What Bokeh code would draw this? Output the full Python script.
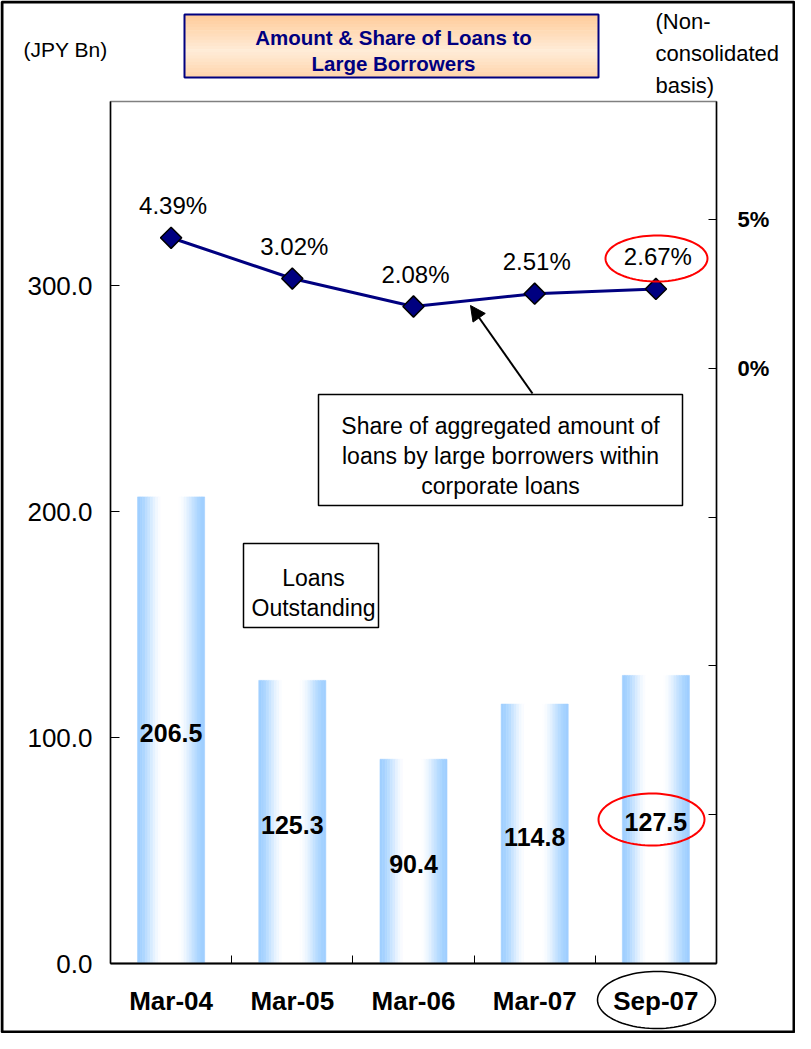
import numpy as np
from bokeh.plotting import figure
from bokeh.models import (Range1d, LinearAxis, FixedTicker, BoxAnnotation, Label,
                          Arrow, NormalHead, PolyAnnotation, NumeralTickFormatter)
from bokeh.core.properties import value
from bokeh.embed import file_html
from bokeh.resources import INLINE

# ---------------- data ----------------
categories = ["Mar-04", "Mar-05", "Mar-06", "Mar-07", "Sep-07"]
loans = [206.5, 125.3, 90.4, 114.8, 127.5]          # JPY Bn
share = [4.39, 3.02, 2.08, 2.51, 2.67]              # %
left_ticks = [0, 100, 200, 300]
right_ticks = [-20, -15, -10, -5, 0, 5]
right_tick_labels = {5: "5%", 0: "0%"}
title_lines = ["Amount & Share of Loans to", "Large Borrowers"]
unit_text = "(JPY Bn)"
basis_lines = ["(Non-", "consolidated", "basis)"]
share_note = ["Share of aggregated amount of", "loans by large borrowers within", "corporate loans"]
loans_note = ["Loans", "Outstanding"]

FONT = "Liberation Sans"
NAVY = "#000080"

# ---------------- layout (canvas pixels) ----------------
W, H = 795, 1033
PX_L, PX_R, PX_T, PX_B = 110, 716, 101, 963     # plot area
YMAX = 381.5                                    # left axis top value
PCT_MIN, PCT_MAX = -20.0, 8.97                  # right axis span
NC = len(categories)

sx = (PX_R - PX_L) / NC
sy = (PX_B - PX_T) / YMAX
sp = (PX_B - PX_T) / (PCT_MAX - PCT_MIN)
x_range = Range1d(-PX_L / sx, NC + (W - PX_R) / sx)
y_range = Range1d(-(H - PX_B) / sy, YMAX + PX_T / sy)
pct_range = Range1d(PCT_MIN - (H - PX_B) / sp, PCT_MAX + PX_T / sp)

p = figure(width=W, height=H, output_backend="svg", toolbar_location=None,
           x_range=x_range, y_range=y_range, x_axis_type=None, y_axis_type=None,
           min_border=0, min_border_left=0, min_border_right=0,
           min_border_top=0, min_border_bottom=0)
p.extra_y_ranges = {"pct": pct_range}
p.outline_line_color = None
p.background_fill_color = "white"
p.border_fill_color = "white"

xpos = [i + 0.5 for i in range(NC)]

# plot-area outline (grey), axes drawn on top of it
p.add_layout(BoxAnnotation(left=0, right=NC, bottom=0, top=YMAX, fill_alpha=0.0,
                           line_color="#808080", line_width=1.5, line_alpha=1.0, level="underlay"))

# ---------------- axes (fixed inside the frame) ----------------
xaxis = LinearAxis(fixed_location=0, bounds=(0, NC),
                   ticker=FixedTicker(ticks=xpos, minor_ticks=list(range(1, NC))),
                   major_label_overrides={x: c for x, c in zip(xpos, categories)})
xaxis.major_tick_line_color = None
xaxis.minor_tick_in = 8
xaxis.minor_tick_out = 0
xaxis.minor_tick_line_color = "black"
xaxis.minor_tick_line_width = 1
xaxis.axis_line_width = 2
xaxis.axis_line_color = "black"
xaxis.major_label_standoff = 16
xaxis.major_label_text_font = FONT
xaxis.major_label_text_font_style = "bold"
xaxis.major_label_text_font_size = "26px"
xaxis.major_label_text_color = "black"
p.add_layout(xaxis, "below")

yaxis = LinearAxis(fixed_location=0, bounds=(0, YMAX), ticker=FixedTicker(ticks=left_ticks),
                   formatter=NumeralTickFormatter(format="0.0"))
yaxis.major_tick_in = 9
yaxis.major_tick_out = 0
yaxis.minor_tick_line_color = None
yaxis.axis_line_width = 1.5
yaxis.axis_line_color = "black"
yaxis.major_tick_line_color = "black"
yaxis.major_label_standoff = 18
yaxis.major_label_text_font = FONT
yaxis.major_label_text_font_size = "26px"
yaxis.major_label_text_color = "black"
p.add_layout(yaxis, "left")

overrides = {t: right_tick_labels.get(t, "") for t in right_ticks}
raxis = LinearAxis(y_range_name="pct", fixed_location=NC, bounds=(PCT_MIN, PCT_MAX),
                   ticker=FixedTicker(ticks=right_ticks), major_label_overrides=overrides)
raxis.major_tick_in = 8
raxis.major_tick_out = 0
raxis.minor_tick_line_color = None
raxis.axis_line_width = 1.5
raxis.axis_line_color = "black"
raxis.major_label_standoff = 21
raxis.major_label_text_font = FONT
raxis.major_label_text_font_style = "bold"
raxis.major_label_text_font_size = "22px"
raxis.major_label_text_color = "black"
p.add_layout(raxis, "right")

# ---------------- bars (horizontal gradient as strips) ----------------
N = 26
bar_w = 0.553
blue = np.array([159, 207, 255])
white = np.array([255, 255, 255])
for k in range(N):
    t = (k + 0.5) / N
    if t < 0.38:
        f = t / 0.38
    elif t <= 0.6:
        f = 1.0
    else:
        f = (1 - t) / 0.4
    f = f * f * (3 - 2 * f)
    c = blue + (white - blue) * f
    col = "#%02x%02x%02x" % tuple(int(round(v)) for v in c)
    off = -bar_w / 2 + (k + 0.5) * bar_w / N
    p.vbar(x=[x + off for x in xpos], top=loans, bottom=0, width=bar_w / N,
           fill_color=col, line_color=col, line_width=0.6)

p.text(x=xpos, y=[v / 2 for v in loans], text=[f"{v:.1f}" for v in loans],
       text_align="center", text_baseline="middle", y_offset=3,
       text_font=value(FONT), text_font_style="bold", text_font_size="25px", text_color="black")

# ---------------- share line ----------------
p.line(xpos, share, y_range_name="pct", line_color=NAVY, line_width=3)
p.scatter(xpos, share, y_range_name="pct", marker="square", angle=np.pi / 4, size=15,
          fill_color=NAVY, line_color="black", line_width=1.5)
p.text(x=xpos, y=share, text=[f"{s:.2f}%" for s in share], y_range_name="pct",
       text_align="center", text_baseline="middle", y_offset=-32, x_offset=2,
       text_font=value(FONT), text_font_size="24px", text_color="black")

# ---------------- annotations (canvas px) ----------------
def label(x, y, txt, size="22px", color="black", style="normal", align="center"):
    p.add_layout(Label(x=x, y=y, x_units="canvas", y_units="canvas", text=txt,
                       text_align=align, text_baseline="middle", text_font=FONT,
                       text_font_size=size, text_color=color, text_font_style=style))

def box(l, r, t, b, fill=None, line="black", lw=1.5):
    p.add_layout(BoxAnnotation(left=l, right=r, top=t, bottom=b,
                               left_units="canvas", right_units="canvas",
                               top_units="canvas", bottom_units="canvas",
                               fill_color=fill if fill else "white", fill_alpha=1.0 if fill else 0.0,
                               line_color=line if line else "white", line_width=lw,
                               line_alpha=1.0 if line else 0.0))

def ellipse(cx, cy, w, h, color, lw):
    a = np.linspace(0, 2 * np.pi, 90)
    p.add_layout(PolyAnnotation(xs=list(cx + w / 2 * np.cos(a)), ys=list(cy + h / 2 * np.sin(a)),
                                xs_units="canvas", ys_units="canvas",
                                fill_alpha=0.0, line_color=color, line_width=lw, line_alpha=1.0))

# title box with vertical gradient
tt, tb, tl, tr = 14, 77, 184, 598
dark = np.array([255, 203, 153]); light = np.array([255, 236, 216])
M = 20
for k in range(M):
    t = (k + 0.5) / M
    f = 1 - abs(t - 0.58) / 0.58
    f = max(0.0, min(1.0, f))
    c = dark + (light - dark) * f
    col = "#%02x%02x%02x" % tuple(int(round(v)) for v in c)
    y0 = tt + (tb - tt) * k / M
    y1 = tt + (tb - tt) * (k + 1) / M + 0.6
    box(tl, tr, y0, y1, fill=col, line=None, lw=0)
box(tl, tr, tt, tb, fill=None, line=NAVY, lw=2)
label(393, 37, title_lines[0], size="20.5px", color=NAVY, style="bold")
label(393, 63, title_lines[1], size="20.5px", color=NAVY, style="bold")

label(65, 49, unit_text, size="21px")
for i, s in enumerate(basis_lines):
    label(655, 21 + 32 * i, s, size="22px", align="left")

# share note box + arrow
box(318, 682, 394, 505, fill="white", line="black", lw=1.5)
for i, s in enumerate(share_note):
    label(500, 425 + 30 * i, s, size="23px")
p.add_layout(Arrow(end=NormalHead(size=15, fill_color="black", line_color="black"),
                   x_start=532, y_start=393, x_end=470, y_end=305,
                   start_units="canvas", end_units="canvas", line_width=2, line_color="black"))

# loans note box
box(243, 378, 543, 627, fill="white", line="black", lw=1.5)
label(313, 577, loans_note[0], size="23px")
label(313, 607, loans_note[1], size="23px")

# highlight ellipses
ellipse(656, 258, 102, 46, "#ff0000", 2)
ellipse(651, 819, 106, 52, "#ff0000", 2)
ellipse(656, 999.5, 118, 57, "black", 1.5)

# page border
box(1.5, W - 1.5, 1.5, H - 1.5, fill=None, line="black", lw=3)

open("out.html", "w").write(file_html(p, INLINE))
